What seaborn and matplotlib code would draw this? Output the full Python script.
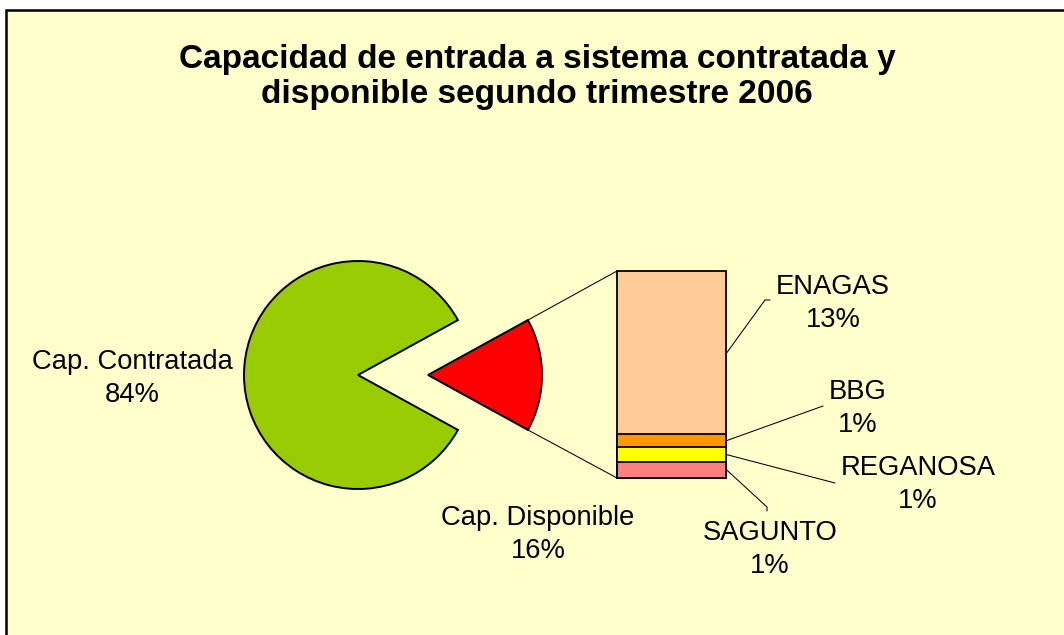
import numpy as np
import pandas as pd
import matplotlib
matplotlib.use("Agg")
import matplotlib.pyplot as plt
from matplotlib.patches import Rectangle
import seaborn as sns

# ---- data ----
pie_labels = ["Cap. Contratada", "Cap. Disponible"]
pie_values = [84.0, 16.0]
bar_labels = ["ENAGAS", "BBG", "REGANOSA", "SAGUNTO"]
bar_values = [12.6, 1.0, 1.2, 1.2]
pie_colors = ["#99CC00", "#FF0000"]
bar_colors = ["#FFCC99", "#FF9900", "#FFFF00", "#FF8080"]
title = "Capacidad de entrada a sistema contratada y\ndisponible segundo trimestre 2006"

sns.set_theme(style="white")
plt.rcParams["font.family"] = ["Liberation Sans", "DejaVu Sans"]
plt.rcParams["text.color"] = "black"

W, H = 1064, 635
fig = plt.figure(figsize=(W / 100, H / 100), dpi=100)
fig.patch.set_facecolor("white")

# chart area background with border
fig.patches.append(Rectangle((6 / W, -0.05), 1.1, 1 - 10 / H + 0.05, transform=fig.transFigure,
                             facecolor="#FFFFCC", edgecolor="black", linewidth=1.8, zorder=-10))

ax = fig.add_axes([0, 0, 1, 1])
ax.patch.set_alpha(0)

# pie geometry (layout)
cx, cy, r = 358, 375, 114
explode_px = 70
total = sum(pie_values)
half = pie_values[1] / total * 180.0
wedges, _ = ax.pie(pie_values, colors=pie_colors, startangle=half, counterclock=True,
                   center=(cx, cy), radius=r, explode=[0, explode_px],
                   wedgeprops=dict(edgecolor="black", linewidth=1.4))
ax.set_xlim(0, W)
ax.set_ylim(H, 0)
ax.set_aspect("equal")
ax.axis("off")

# stacked bar with seaborn (cumulative overlay)
bax = fig.add_axes([617 / W, 1 - 478 / H, 109 / W, 207 / H])
bax.patch.set_alpha(0)
rev_vals = bar_values[::-1]
rev_cols = bar_colors[::-1]
cum = np.cumsum(rev_vals)
stack_df = pd.DataFrame({"x": ["s"] * len(cum), "cum": cum[::-1], "c": rev_cols[::-1]})
for i, row in stack_df.iterrows():
    sns.barplot(x=[row["x"]], y=[row["cum"]], color=row["c"], width=1.0, saturation=1,
                edgecolor="black", linewidth=1.3, ax=bax)
for p in bax.patches:
    p.set_clip_on(False)
bax.set_xlim(-0.5, 0.5)
bax.set_ylim(0, sum(bar_values))
bax.axis("off")

# connector lines from exploded wedge to bar corners
def bar_to_ax(x, y):
    return ax.transData.inverted().transform(bax.transData.transform((x, y)))

tipx = cx + explode_px
th = np.deg2rad(half)
top_pt = (tipx + r * np.cos(th), cy - r * np.sin(th))
bot_pt = (tipx + r * np.cos(th), cy + r * np.sin(th))
tl = bar_to_ax(-0.5, sum(bar_values))
bl = bar_to_ax(-0.5, 0)
ax.plot([top_pt[0], tl[0]], [top_pt[1], tl[1]], color="black", lw=0.75)
ax.plot([bot_pt[0], bl[0]], [bot_pt[1], bl[1]], color="black", lw=0.75)

fs = 19.7
ls = 1.36
# positions: (center x, baseline of second line)
ax.text(132, 402, f"{pie_labels[0]}\n{pie_values[0]:.0f}%", ha="center", va="baseline",
        fontsize=fs, linespacing=ls)
ax.text(538, 558, f"{pie_labels[1]}\n{pie_values[1]:.0f}%", ha="center", va="baseline",
        fontsize=fs, linespacing=ls)

# bar labels with leader lines
bottoms_from_top = sum(bar_values) - np.cumsum(bar_values)
mids = bottoms_from_top + np.array(bar_values) / 2
leaders = [[(765, 300), (770, 300)], [(823, 406)], [(835, 483)], [(767, 507), (767, 511)]]
text_pos = [(833, 327), (858, 432), (918, 508), (770, 573)]
for lab, v, m, pts, tp in zip(bar_labels, bar_values, mids, leaders, text_pos):
    a = bar_to_ax(0.5, m)
    xs = [a[0] + 1] + [p[0] for p in pts]
    ys = [a[1]] + [p[1] for p in pts]
    ax.plot(xs, ys, color="black", lw=0.75)
    ax.text(tp[0], tp[1], f"{lab}\n{max(round(v), 1):.0f}%", ha="center", va="baseline",
            fontsize=fs, linespacing=ls)

ax.text(537, 103, title, ha="center", va="baseline", fontsize=24, fontweight="bold",
        linespacing=1.17)

fig.savefig("out.png", dpi=100)
